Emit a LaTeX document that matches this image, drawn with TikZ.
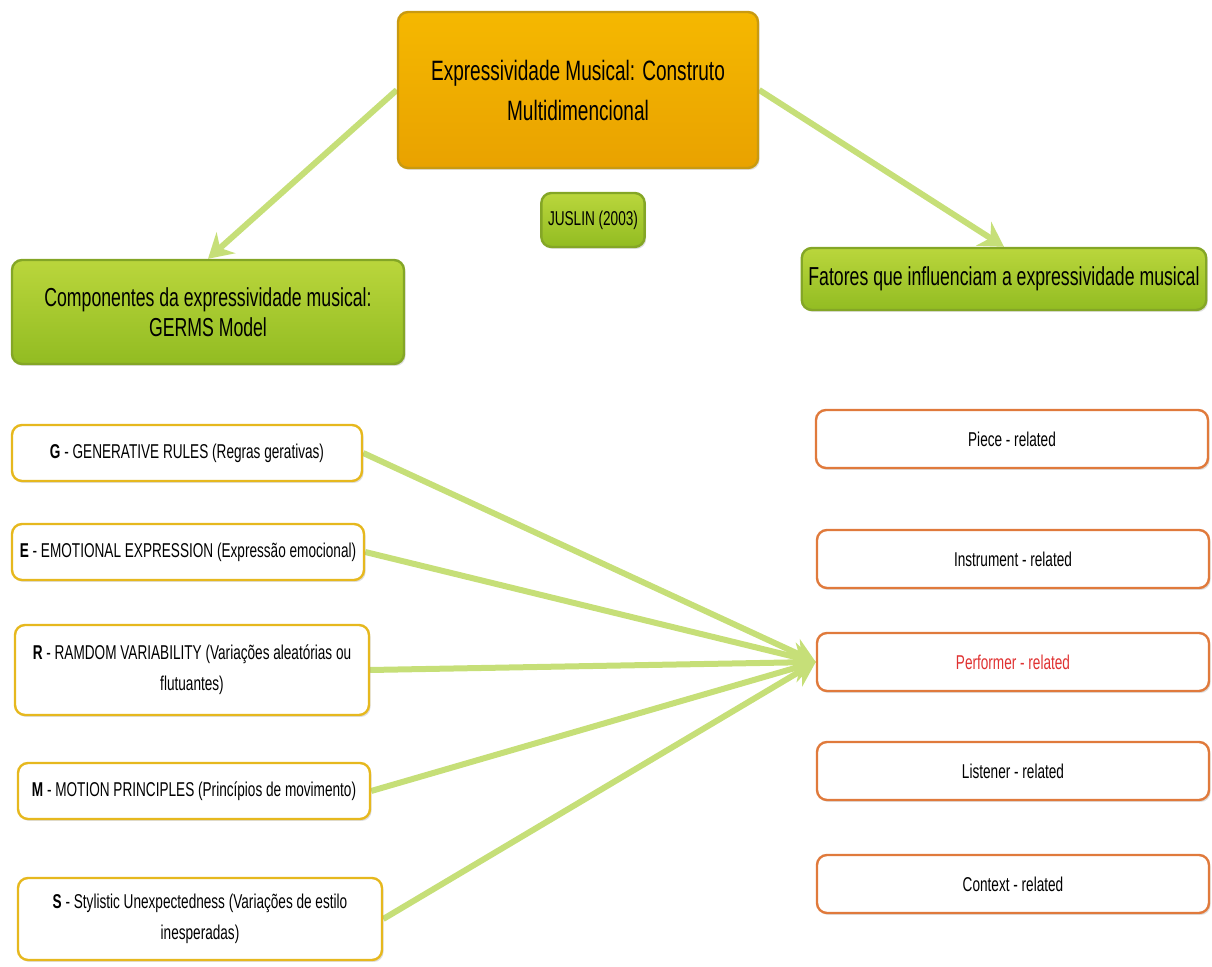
\documentclass[tikz,border=0pt]{standalone}
\usepackage{fontspec}
\setmainfont[FakeStretch=0.68]{Liberation Sans}
\usetikzlibrary{arrows.meta,shadows,backgrounds}
\definecolor{topfill}{HTML}{F5B800}
\definecolor{topfillb}{HTML}{E9A200}
\definecolor{topline}{HTML}{C99A10}
\definecolor{greenfill}{HTML}{BAD63C}
\definecolor{greenfillb}{HTML}{92BC22}
\definecolor{greenline}{HTML}{84A626}
\definecolor{link}{HTML}{C6DF78}
\definecolor{yellowline}{HTML}{E6B81E}
\definecolor{orangeline}{HTML}{E07A3C}
\definecolor{perfred}{HTML}{E03232}
\tikzset{
  box/.style = {rounded corners=5pt, line width=1.2pt, align=center,
    drop shadow={opacity=0.25, shadow xshift=0.8pt, shadow yshift=-1pt}},
  topbox/.style = {box, draw=topline, top color=topfill, bottom color=topfillb,
    font=\fontsize{14}{20}\selectfont, minimum width=180pt, minimum height=78pt},
  greenbox/.style = {box, draw=greenline, top color=greenfill, bottom color=greenfillb,
    font=\fontsize{13}{15}\selectfont},
  germs/.style = {box, draw=yellowline, fill=white,
    font=\fontsize{10}{15.5}\selectfont, minimum height=28pt},
  factor/.style = {box, draw=orangeline, fill=white,
    font=\fontsize{10}{15.5}\selectfont, minimum width=196pt, minimum height=29pt},
  link/.style = {draw=link, line width=3pt, -{Stealth[length=12pt,width=14pt]}}
}

\begin{document}
\begin{tikzpicture}[x=0.5pt,y=-0.5pt]
  \useasboundingbox (0,0) rectangle (1212,967);
  % top and sub-topics
  \node[topbox] (expr) at (578,90) {Expressividade Musical: Construto\\Multidimencional};
  \node[greenbox, font=\fontsize{10}{12}\selectfont, minimum width=51pt, minimum height=27pt] (juslin) at (593,220) {JUSLIN (2003)};
  \node[greenbox, minimum width=196pt, minimum height=52pt] (comp) at (208,312) {Componentes da expressividade musical:\\GERMS Model};
  \node[greenbox, minimum width=198pt, minimum height=31pt] (fat) at (1004,279) {Fatores que influenciam a expressividade musical};
  % GERMS model
  \node[germs, minimum width=175pt] (gen) at (187,453) {\textbf{G} - GENERATIVE RULES (Regras gerativas)};
  \node[germs, minimum width=176pt] (emo) at (188,552) {\textbf{E} - EMOTIONAL EXPRESSION (Expressão emocional)};
  \node[germs, minimum width=177pt, minimum height=45pt] (ran) at (192,670) {\textbf{R} - RAMDOM VARIABILITY (Variações aleatórias ou\\flutuantes)};
  \node[germs, minimum width=176pt] (mot) at (194,791) {\textbf{M} - MOTION PRINCIPLES (Princípios de movimento)};
  \node[germs, minimum width=182pt, minimum height=41pt] (sty) at (200,919) {\textbf{S} - Stylistic Unexpectedness (Variações de estilo\\inesperadas)};
  % factors
  \node[factor] (piece) at (1012,439) {Piece - related};
  \node[factor] (instr) at (1013,559) {Instrument - related};
  \node[factor, text=perfred] (perf) at (1013,662) {Performer - related};
  \node[factor] (list) at (1013,771) {Listener - related};
  \node[factor] (cont) at (1013,884) {Context - related};
  \begin{scope}[on background layer]
    \draw[link] (expr.west) -- (comp.north);
    \draw[link] (expr.east) -- (fat.north);
    \foreach \g in {gen,emo,ran,mot,sty}
      \draw[link] (\g.east) -- (perf.west);
  \end{scope}
\end{tikzpicture}
\end{document}
